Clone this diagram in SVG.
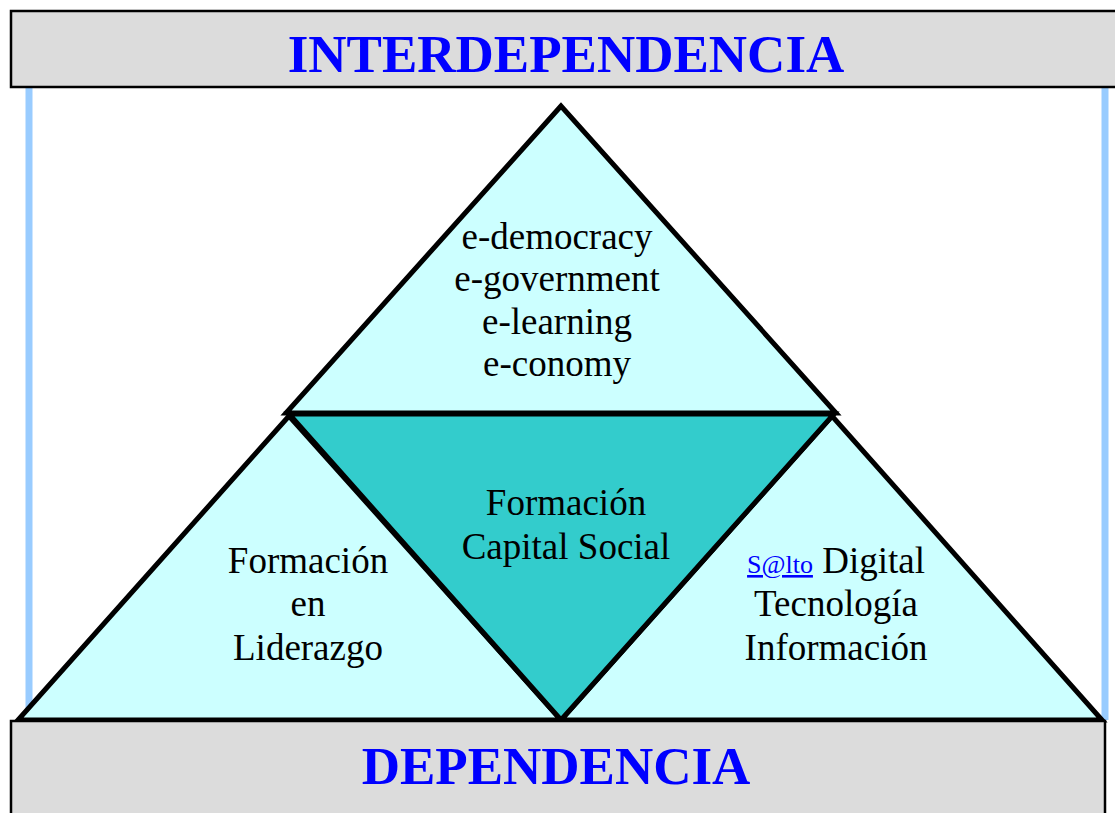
<svg xmlns="http://www.w3.org/2000/svg" width="1115" height="813" viewBox="0 0 1115 813">
<style>
.band{fill:#DCDCDC;stroke:#000;stroke-width:2.5}
.title{font-family:"Liberation Serif",serif;font-weight:bold;font-size:53px;fill:#0000FF;text-anchor:middle}
.t{font-family:"Liberation Serif",serif;font-size:37px;fill:#000;text-anchor:middle}
.light{fill:#CCFFFF;stroke:#000;stroke-width:5;stroke-linejoin:miter}
.dark{fill:#33CCCC;stroke:#000;stroke-width:5}
.post{stroke:#99CCFF;stroke-width:7}
.link{font-family:"Liberation Serif",serif;font-size:26px;fill:#0000FF;text-decoration:underline}
</style>
<rect width="1115" height="813" fill="#fff"/>
<g id="posts">
<line class="post" x1="29" y1="88" x2="29" y2="720"/>
<line class="post" x1="1105" y1="88" x2="1105" y2="720"/>
</g>
<g id="top-band">
<rect class="band" x="11" y="11" width="1110" height="76"/>
<text class="title" x="566" y="72">INTERDEPENDENCIA</text>
</g>
<g id="left-triangle">
<polygon class="light" points="289,416 18,720 561,720"/>
<text class="t" x="308" y="573">Formación</text>
<text class="t" x="308" y="616">en</text>
<text class="t" x="308" y="660">Liderazgo</text>
</g>
<g id="right-triangle">
<polygon class="light" points="832,416 561,720 1102,720"/>
<text class="t" x="836" y="573"><tspan class="link">S@lto</tspan> Digital</text>
<text class="t" x="836" y="616">Tecnología</text>
<text class="t" x="836" y="660">Información</text>
</g>
<g id="top-triangle">
<polygon class="light" points="561,106 286,413 836,413"/>
<text class="t" x="557" y="249">e-democracy</text>
<text class="t" x="557" y="291">e-government</text>
<text class="t" x="557" y="334">e-learning</text>
<text class="t" x="557" y="376">e-conomy</text>
</g>
<g id="center-triangle">
<polygon class="dark" points="289,414 834,414 561,720"/>
<text class="t" x="566" y="515">Formación</text>
<text class="t" x="566" y="559">Capital Social</text>
</g>
<g id="bottom-band">
<rect class="band" x="11" y="721" width="1094" height="100"/>
<text class="title" x="556" y="784">DEPENDENCIA</text>
</g>
</svg>
